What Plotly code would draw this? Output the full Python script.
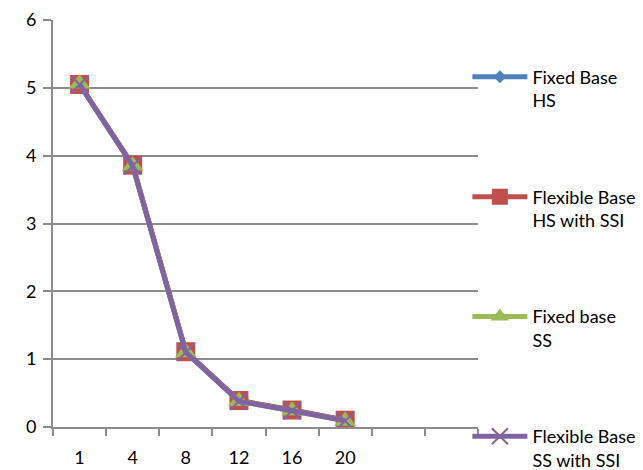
import plotly.graph_objects as go

# Category labels along the x axis (two trailing slots are left empty)
categories = ["1", "4", "8", "12", "16", "20"]
n_slots = 8

# Series values
fixed_base_hs = [5.05, 3.86, 1.11, 0.39, 0.25, 0.10]
flexible_base_hs_ssi = [5.05, 3.86, 1.11, 0.39, 0.25, 0.10]
fixed_base_ss = [5.06, 3.85, 1.10, 0.38, 0.24, 0.09]
flexible_base_ss_ssi = [5.05, 3.85, 1.10, 0.38, 0.24, 0.09]

y_ticks = [0, 1, 2, 3, 4, 5, 6]

FONT = "Lato"
GRID = "#8c8c8c"

x_pos = [i + 0.5 for i in range(len(categories))]

series = [
    ("Fixed Base<br>HS", fixed_base_hs, "#4F81BD", dict(symbol="diamond", size=10)),
    ("Flexible Base<br>HS with SSI", flexible_base_hs_ssi, "#C0504D", dict(symbol="square", size=19)),
    ("Fixed base<br>SS", fixed_base_ss, "#9BBB59", dict(symbol="triangle-up", size=19)),
    ("Flexible Base<br>SS with SSI", flexible_base_ss_ssi, "#8064A2",
     dict(symbol="x-thin", size=17, line=dict(width=2, color="#8064A2"))),
]

fig = go.Figure()
for i, (name, vals, color, mk) in enumerate(series):
    fig.add_trace(go.Scatter(
        x=x_pos, y=vals, name=name, mode="lines+markers",
        legendgroup=f"g{i}",
        line=dict(color=color, width=5),
        marker=dict(color=color, **mk),
    ))

fig.update_layout(
    width=643, height=470,
    margin=dict(l=53, r=165, t=20, b=43, autoexpand=False),
    paper_bgcolor="white", plot_bgcolor="white",
    font=dict(family=FONT, size=18, color="#000000"),
    legend=dict(
        x=0.975, xanchor="left", y=0.905, yanchor="top",
        valign="top", itemwidth=55, tracegroupgap=70, maxheight=2000,
        font=dict(family=FONT, size=18, color="#000000"),
        bgcolor="rgba(0,0,0,0)",
    ),
    xaxis=dict(
        range=[0, n_slots], tickmode="array", tickvals=x_pos, ticktext=categories,
        ticks="", showgrid=False, zeroline=False, automargin=False,
        showline=True, linecolor=GRID, linewidth=2,
        ticklabelstandoff=13,
        minor=dict(tickmode="linear", tick0=0, dtick=1, ticks="outside",
                   ticklen=7, tickcolor=GRID, tickwidth=2, showgrid=False),
    ),
    yaxis=dict(
        range=[0, 6], tickmode="array", tickvals=y_ticks, automargin=False,
        ticks="outside", ticklen=8, tickcolor=GRID, tickwidth=2,
        showgrid=True, gridcolor=GRID, gridwidth=2,
        zeroline=False, showline=True, linecolor=GRID, linewidth=2,
        ticklabelstandoff=3,
    ),
)

fig.write_html("out.html")
